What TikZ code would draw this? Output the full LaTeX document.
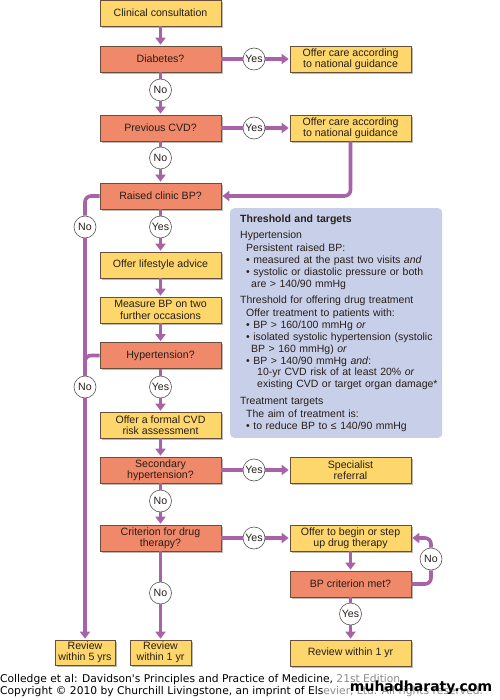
\documentclass[tikz,border=0pt]{standalone}
\usepackage{fontspec}
\setmainfont{Liberation Sans}
\newfontfamily\creditfont{DejaVu Sans}
\usepackage{tikz}
\usetikzlibrary{shapes, shadows, arrows.meta}

\definecolor{stepfill}{RGB}{253,214,108}
\definecolor{askfill}{RGB}{240,136,106}
\definecolor{boxline}{RGB}{105,78,60}
\definecolor{flowcol}{RGB}{168,98,168}
\definecolor{ringcol}{RGB}{85,85,85}
\definecolor{infofill}{RGB}{200,208,233}
\definecolor{inktext}{RGB}{40,30,25}

\begin{document}
\begin{tikzpicture}[x=1pt,y=-1pt,
    every node/.style={font=\fontsize{10.6}{11.2}\selectfont, text=inktext},
    action/.style={draw=boxline, line width=0.6pt, fill=stepfill,
      minimum width=121pt, minimum height=26pt, inner sep=0pt, align=center,
      drop shadow={shadow xshift=1.6pt, shadow yshift=-1.6pt, opacity=0.45, fill=black!60}},
    query/.style={action, fill=askfill},
    answer/.style={circle, draw=ringcol, line width=0.6pt, fill=white,
      minimum size=22pt, inner sep=0pt},
    link/.style={draw=flowcol, line width=3.6pt},
    linkto/.style={link, -{Triangle[length=7pt,width=10pt]}, shorten >=1pt},
  ]
    \useasboundingbox (0,0) rectangle (499,700);
    % MAIN COLUMN
    \node[action] (consult) at (160.5,13) {Clinical consultation};
    \node[query] (diab) at (160.5,59) {Diabetes?};
    \node[query] (prevcvd) at (160.5,128) {Previous CVD?};
    \node[query] (raised) at (160.5,196) {Raised clinic BP?};
    \node[action] (lifestyle) at (160.5,265) {Offer lifestyle advice};
    \node[action] (measure) at (160.5,310) {Measure BP on two\\further occasions};
    \node[query] (hypert) at (160.5,355.5) {Hypertension?};
    \node[action] (cvdrisk) at (160.5,425) {Offer a formal CVD\\risk assessment};
    \node[query] (second) at (160.5,470) {Secondary\\hypertension?};
    \node[query] (crit) at (160.5,538) {Criterion for drug\\therapy?};
    % RIGHT COLUMN
    \node[action] (care1) at (350.5,59) {Offer care according\\to national guidance};
    \node[action] (care2) at (350.5,128) {Offer care according\\to national guidance};
    \node[action] (special) at (350.5,470) {Specialist\\referral};
    \node[action] (drugs) at (350.5,538) {Offer to begin or step\\up drug therapy};
    \node[query] (bpmet) at (350.5,584) {BP criterion met?};
    % REVIEWS
    \node[action, minimum width=60pt, minimum height=25pt] (rev5) at (85,652.5) {Review\\within 5 yrs};
    \node[action, minimum width=61pt, minimum height=25pt] (rev1) at (160.5,652.5) {Review\\within 1 yr};
    \node[action] (revR) at (350.5,653) {Review within 1 yr};
    % yes / no circles
    \node[answer] (yes1) at (254,59) {Yes};
    \node[answer] (yes2) at (254,128) {Yes};
    \node[answer] (yes3) at (254,470) {Yes};
    \node[answer] (yes4) at (254,538) {Yes};
    \node[answer] (yesA) at (160.5,227) {Yes};
    \node[answer] (yesB) at (160.5,387) {Yes};
    \node[answer] (yes5) at (350.5,614) {Yes};
    \node[answer] (no1) at (160.5,90) {No};
    \node[answer] (no2) at (160.5,158) {No};
    \node[answer] (no3) at (160.5,501) {No};
    \node[answer] (no4) at (160.5,593) {No};
    \node[answer] (noA) at (85,227) {No};
    \node[answer] (noB) at (85,387) {No};
    \node[answer] (no5) at (431,559) {No};
    % connectors, down the middle
    \draw[linkto] (consult) -- (diab);
    \draw[link] (diab) -- (no1);
    \draw[linkto] (no1) -- (prevcvd);
    \draw[link] (prevcvd) -- (no2);
    \draw[linkto] (no2) -- (raised);
    \draw[link] (raised) -- (yesA);
    \draw[linkto] (yesA) -- (lifestyle);
    \draw[linkto] (lifestyle) -- (measure);
    \draw[linkto] (measure) -- (hypert);
    \draw[link] (hypert) -- (yesB);
    \draw[linkto] (yesB) -- (cvdrisk);
    \draw[linkto] (cvdrisk) -- (second);
    \draw[link] (second) -- (no3);
    \draw[linkto] (no3) -- (crit);
    \draw[link] (crit) -- (no4);
    \draw[linkto] (no4) -- (rev1);
    % connectors, to the right
    \draw[link] (diab) -- (yes1);
    \draw[linkto] (yes1) -- (care1);
    \draw[link] (prevcvd) -- (yes2);
    \draw[linkto] (yes2) -- (care2);
    \draw[linkto, rounded corners=6pt] (care2.south) |- (raised.east);
    \draw[link] (second) -- (yes3);
    \draw[linkto] (yes3) -- (special);
    \draw[link] (crit) -- (yes4);
    \draw[linkto] (yes4) -- (drugs);
    \draw[linkto] (drugs) -- (bpmet);
    \draw[link, rounded corners=6pt] (bpmet.east) -| (no5);
    \draw[linkto, rounded corners=6pt] (no5) |- (drugs.east);
    \draw[link] (bpmet) -- (yes5);
    \draw[linkto] (yes5) -- (revR);
    % connectors, down the left
    \draw[link, rounded corners=6pt] (raised.west) -| (noA);
    \draw[link] (noA) -- (noB);
    \draw[link, rounded corners=6pt] (hypert.west) -| (noB);
    \draw[linkto] (noB) -- (rev5);
    % THRESHOLD BOX
    \node[anchor=north west, fill=infofill, rounded corners=4pt,
      text width=206pt, inner xsep=3pt, inner ysep=6.5pt, align=left,
      font=\fontsize{10.5}{11.8}\selectfont] (targets) at (230,208) {%
      \hspace*{7pt}\textbf{Threshold and targets}\\[4pt]
      \hspace*{7pt}Hypertension\\[2pt]
      \hspace*{13pt}Persistent raised BP:\\
      \hspace*{13pt}\textbullet\ measured at the past two visits \textit{and}\\
      \hspace*{13pt}\mbox{\textbullet\ systolic or diastolic pressure or both}\\
      \hspace*{18pt}are > 140/90 mmHg\\[4.5pt]
      \hspace*{7pt}Threshold for offering drug treatment\\[1.5pt]
      \hspace*{13pt}Offer treatment to patients with:\\
      \hspace*{13pt}\textbullet\ BP > 160/100 mmHg \textit{or}\\
      \hspace*{13pt}\mbox{\textbullet\ isolated systolic hypertension (systolic}\\
      \hspace*{18pt}BP > 160 mmHg) \textit{or}\\
      \hspace*{13pt}\textbullet\ BP > 140/90 mmHg \textit{and}:\\
      \hspace*{24pt}\mbox{10-yr CVD risk of at least 20\% \textit{or}}\\
      \hspace*{24pt}\mbox{existing CVD or target organ damage*}\\[4.5pt]
      \hspace*{7pt}Treatment targets\\[1.5pt]
      \hspace*{13pt}The aim of treatment is:\\
      \hspace*{13pt}\textbullet\ to reduce BP to ≤ 140/90 mmHg};
    % CREDIT LINES
    \node[anchor=west, inner sep=0pt, text=black, font=\creditfont\fontsize{10.7}{11}\selectfont] (cite) at (0,680)
      {Colledge et al: Davidson's Principles and Practice of Medicine, \textcolor{black!45}{21st Edition}};
    \node[anchor=west, inner sep=0pt, text=black, font=\creditfont\fontsize{10.7}{11}\selectfont] (copy) at (0,692)
      {Copyright \textcopyright{} 2010 by Churchill Livingstone, an imprint of Els\textcolor{black!45}{evier, Ltd. All rights reserved.}};
    \node[inner sep=0pt, text=black, font=\creditfont\bfseries\fontsize{14}{15}\selectfont] (site) at (421,688) {muhadharaty.com};
\end{tikzpicture}
\end{document}
